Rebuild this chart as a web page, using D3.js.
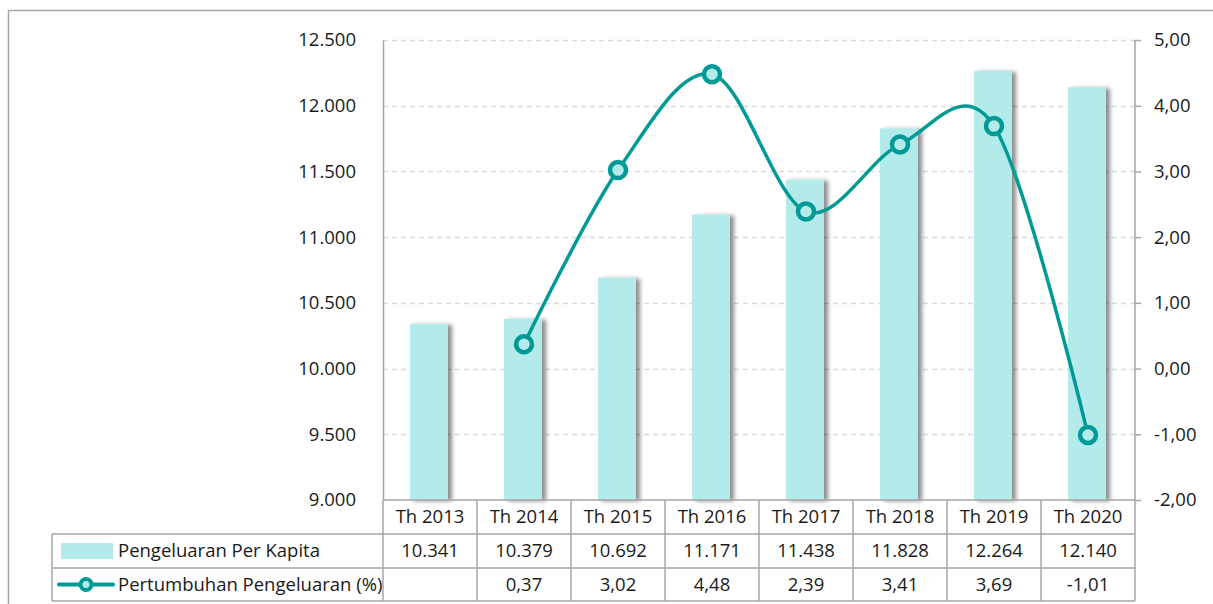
<!DOCTYPE html>
<html>
<head>
<meta charset="utf-8">
<script src="https://cdn.jsdelivr.net/npm/d3@7"></script>
<style>
  body { margin: 0; background: #fff; }
  svg { display: block; font-family: "Open Sans", "Noto Sans", sans-serif; }
</style>
</head>
<body>
<svg id="chart" width="1213" height="604"></svg>
<script>
const categories = ["Th 2013", "Th 2014", "Th 2015", "Th 2016", "Th 2017", "Th 2018", "Th 2019", "Th 2020"];
const spending = [10341, 10379, 10692, 11171, 11438, 11828, 12264, 12140];
const growth = [null, 0.37, 3.02, 4.48, 2.39, 3.41, 3.69, -1.01];
const leftTicks = [9000, 9500, 10000, 10500, 11000, 11500, 12000, 12500];
const rightTicks = [-2, -1, 0, 1, 2, 3, 4, 5];
const seriesNames = ["Pengeluaran Per Kapita", "Pertumbuhan Pengeluaran (%)"];

const barColor = "#b2ebe9";
const lineColor = "#009a96";
const axisColor = "#a6a6a6";
const gridColor = "#d9d9d9";
const textColor = "#1a1a1a";
const fontSize = "18.5px";

const svg = d3.select("#chart");
const plot = { left: 383, right: 1135, top: 40, bottom: 500 };
const tableLeft = 52;
const rowH = [500, 534, 568, 601];

const defs = svg.append("defs");
const f = defs.append("filter").attr("id", "shadow").attr("x", "-30%").attr("y", "-10%").attr("width", "160%").attr("height", "130%");
f.append("feDropShadow").attr("dx", 4).attr("dy", 1).attr("stdDeviation", 2.2).attr("flood-color", "#000").attr("flood-opacity", 0.45);

// outer border
svg.append("rect").attr("x", 8.5).attr("y", 10.5).attr("width", 1300).attr("height", 700)
  .attr("fill", "none").attr("stroke", axisColor).attr("stroke-width", 1.5);

const x = d3.scaleBand().domain(categories).range([plot.left, plot.right]).paddingInner(0).paddingOuter(0);
const yL = d3.scaleLinear().domain([9000, 12500]).range([plot.bottom, plot.top]);
const yR = d3.scaleLinear().domain([-2, 5]).range([plot.bottom, plot.top]);

// gridlines
svg.append("g").selectAll("line").data(leftTicks.slice(1)).join("line")
  .attr("x1", plot.left).attr("x2", plot.right)
  .attr("y1", d => Math.round(yL(d)) + 0.5).attr("y2", d => Math.round(yL(d)) + 0.5)
  .attr("stroke", gridColor).attr("stroke-width", 1.3).attr("stroke-dasharray", "5,4");

// bars
const barW = 38;
svg.append("g").selectAll("rect").data(spending).join("rect")
  .attr("x", (d, i) => x(categories[i]) + x.bandwidth() / 2 - barW / 2 - 1)
  .attr("width", barW)
  .attr("y", d => yL(d))
  .attr("height", d => yL(9000) - yL(d))
  .attr("fill", barColor)
  .attr("filter", "url(#shadow)");

// left axis
const gL = svg.append("g").attr("transform", `translate(${plot.left},0)`)
  .call(d3.axisLeft(yL).tickValues(leftTicks).tickSize(0).tickPadding(27)
    .tickFormat(d => d3.format(",")(d).replace(/,/g, ".")));
gL.select(".domain").attr("stroke", axisColor).attr("stroke-width", 1.5);
gL.selectAll("text").attr("font-size", fontSize).attr("fill", textColor).attr("font-family", "Open Sans");

// right axis
const gR = svg.append("g").attr("transform", `translate(${plot.right},0)`)
  .call(d3.axisRight(yR).tickValues(rightTicks).tickSize(6).tickPadding(13)
    .tickFormat(d => d3.format(".2f")(d).replace(".", ",").replace("−", "-")));
gR.select(".domain").attr("stroke", axisColor).attr("stroke-width", 1.5).attr("d", `M0,${plot.top}V${plot.bottom}`);
gR.selectAll(".tick line").attr("stroke", axisColor).attr("stroke-width", 1.5);
gR.selectAll("text").attr("font-size", fontSize).attr("fill", textColor).attr("font-family", "Open Sans");

// line
const pts = growth.map((v, i) => v == null ? null : [x(categories[i]) + x.bandwidth() / 2, yR(v)]).filter(p => p);
const line = d3.line().curve(d3.curveCatmullRom.alpha(0));
svg.append("path").attr("d", line(pts)).attr("fill", "none").attr("stroke", lineColor).attr("stroke-width", 3.5);
svg.append("g").selectAll("circle").data(pts).join("circle")
  .attr("cx", d => d[0]).attr("cy", d => d[1]).attr("r", 8)
  .attr("fill", barColor).attr("stroke", lineColor).attr("stroke-width", 4.5);

// data table
const tg = svg.append("g").attr("stroke", axisColor).attr("stroke-width", 1.5);
tg.append("line").attr("x1", plot.left).attr("x2", plot.right).attr("y1", rowH[0]).attr("y2", rowH[0]);
[1, 2, 3].forEach(r => tg.append("line").attr("x1", tableLeft).attr("x2", plot.right).attr("y1", rowH[r]).attr("y2", rowH[r]));
tg.append("line").attr("x1", tableLeft).attr("x2", tableLeft).attr("y1", rowH[1]).attr("y2", rowH[3]);
categories.forEach(c => tg.append("line").attr("x1", x(c)).attr("x2", x(c)).attr("y1", rowH[0]).attr("y2", rowH[3]));
tg.append("line").attr("x1", plot.right).attr("x2", plot.right).attr("y1", rowH[0]).attr("y2", rowH[3]);

const tt = svg.append("g").attr("font-size", fontSize).attr("fill", textColor).attr("text-anchor", "middle");
const rowMid = r => (rowH[r] + rowH[r + 1]) / 2;
categories.forEach((c, i) => {
  const cx = x(c) + x.bandwidth() / 2;
  tt.append("text").attr("x", cx).attr("y", rowMid(0)).attr("dy", "0.35em").text(c);
  tt.append("text").attr("x", cx).attr("y", rowMid(1)).attr("dy", "0.35em")
    .text(d3.format(",")(spending[i]).replace(/,/g, "."));
  if (growth[i] != null)
    tt.append("text").attr("x", cx).attr("y", rowMid(2)).attr("dy", "0.35em")
      .text(d3.format(".2f")(growth[i]).replace(".", ",").replace("−", "-"));
});

// legend in table
svg.append("rect").attr("x", 61).attr("y", rowMid(1) - 8).attr("width", 52).attr("height", 16).attr("fill", barColor);
svg.append("line").attr("x1", 59).attr("x2", 113).attr("y1", rowMid(2)).attr("y2", rowMid(2))
  .attr("stroke", lineColor).attr("stroke-width", 4).attr("stroke-linecap", "round");
svg.append("circle").attr("cx", 86).attr("cy", rowMid(2)).attr("r", 5.5)
  .attr("fill", barColor).attr("stroke", lineColor).attr("stroke-width", 4);
const lt = svg.append("g").attr("font-size", fontSize).attr("fill", textColor);
lt.append("text").attr("x", 118).attr("y", rowMid(1)).attr("dy", "0.35em").text(seriesNames[0]);
lt.append("text").attr("x", 118).attr("y", rowMid(2)).attr("dy", "0.35em").text(seriesNames[1]);
</script>
</body>
</html>
